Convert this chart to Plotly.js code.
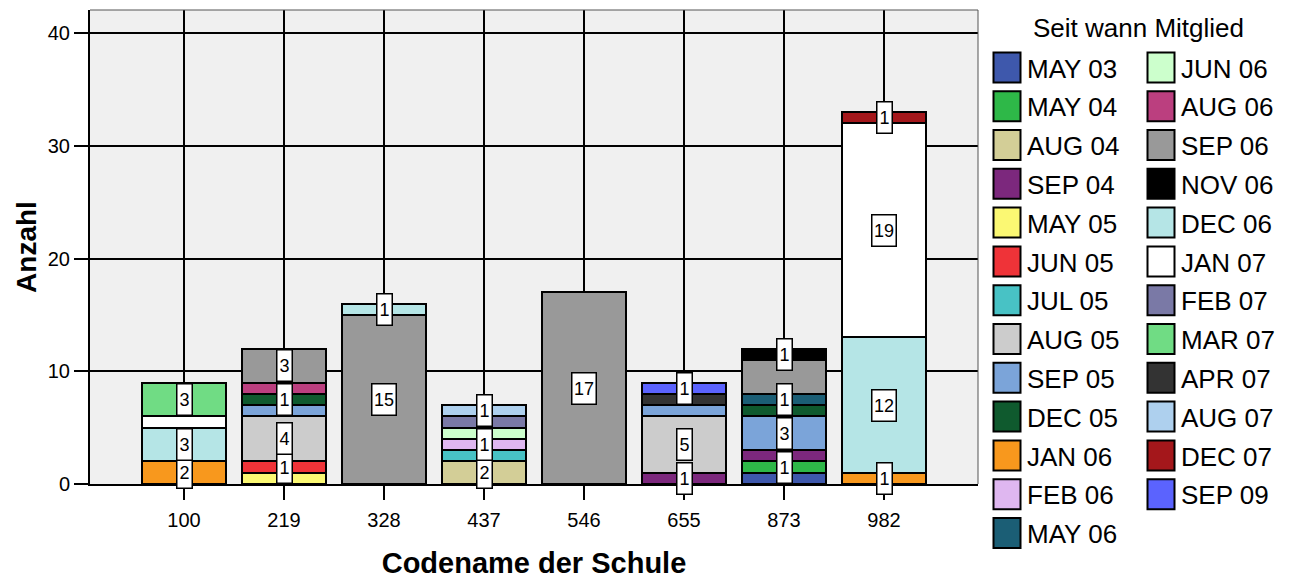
<!DOCTYPE html>
<html>
<head>
<meta charset="utf-8">
<script src="https://cdn.plot.ly/plotly-3.0.1.min.js"></script>
<style>html,body{margin:0;padding:0;background:#fff;}#chart{width:1290px;height:579px;}</style>
</head>
<body>
<div id="chart"></div>
<script>
// ---- data ----
var schools = ['100', '219', '328', '437', '546', '655', '873', '982'];
var seriesNames = ['MAY 03', 'MAY 04', 'AUG 04', 'SEP 04', 'MAY 05', 'JUN 05', 'JUL 05', 'AUG 05',
  'SEP 05', 'DEC 05', 'JAN 06', 'FEB 06', 'MAY 06', 'JUN 06', 'AUG 06', 'SEP 06', 'NOV 06',
  'DEC 06', 'JAN 07', 'FEB 07', 'MAR 07', 'APR 07', 'AUG 07', 'DEC 07', 'SEP 09'];
var seriesColors = ['#3e58ac', '#2eb848', '#d3ce97', '#7c287d', '#fbf873', '#ef3338', '#48c2c5', '#cccccc',
  '#7ba4d9', '#0f5a2e', '#f8981d', '#dfb7f0', '#1b5e75', '#ccffcc', '#bb3f7f', '#999999', '#000000',
  '#b5e5e6', '#ffffff', '#7a79a6', '#70dc84', '#333333', '#aed0ee', '#a4171b', '#5b63fe'];
//                 100   219   328   437   546   655   873   982
var may03 = [null, null, null, null, null, null, 1, null];
var may04 = [null, null, null, null, null, null, 1, null];
var aug04 = [null, null, null, 2, null, null, null, null];
var sep04 = [null, null, null, null, null, 1, 1, null];
var may05 = [null, 1, null, null, null, null, null, null];
var jun05 = [null, 1, null, null, null, null, null, null];
var jul05 = [null, null, null, 1, null, null, null, null];
var aug05 = [null, 4, null, null, null, 5, null, null];
var sep05 = [null, 1, null, null, null, 1, 3, null];
var dec05 = [null, 1, null, null, null, null, 1, null];
var jan06 = [2, null, null, null, null, null, null, 1];
var feb06 = [null, null, null, 1, null, null, null, null];
var may06 = [null, null, null, null, null, null, 1, null];
var jun06 = [null, null, null, 1, null, null, null, null];
var aug06 = [null, 1, null, null, null, null, null, null];
var sep06 = [null, 3, 15, null, 17, null, 3, null];
var nov06 = [null, null, null, null, null, null, 1, null];
var dec06 = [3, null, 1, null, null, null, null, 12];
var jan07 = [1, null, null, null, null, null, null, 19];
var feb07 = [null, null, null, 1, null, null, null, null];
var mar07 = [3, null, null, null, null, null, null, null];
var apr07 = [null, null, null, null, null, 1, null, null];
var aug07 = [null, null, null, 1, null, null, null, null];
var dec07 = [null, null, null, null, null, null, null, 1];
var sep09 = [null, null, null, null, null, 1, null, null];
var seriesValues = [may03, may04, aug04, sep04, may05, jun05, jul05, aug05, sep05, dec05, jan06, feb06,
  may06, jun06, aug06, sep06, nov06, dec06, jan07, feb07, mar07, apr07, aug07, dec07, sep09];
// segments that carry a value label: [school, series]
var labelledSegments = [
  ['100', 'JAN 06'], ['100', 'DEC 06'], ['100', 'MAR 07'],
  ['219', 'JUN 05'], ['219', 'AUG 05'], ['219', 'DEC 05'], ['219', 'SEP 06'],
  ['328', 'SEP 06'], ['328', 'DEC 06'],
  ['437', 'AUG 04'], ['437', 'FEB 06'], ['437', 'AUG 07'],
  ['546', 'SEP 06'],
  ['655', 'SEP 04'], ['655', 'AUG 05'], ['655', 'SEP 09'],
  ['873', 'MAY 04'], ['873', 'SEP 05'], ['873', 'MAY 06'], ['873', 'NOV 06'],
  ['982', 'JAN 06'], ['982', 'DEC 06'], ['982', 'JAN 07'], ['982', 'DEC 07']
];
var legendTitle = 'Seit wann Mitglied';
var xTitle = 'Codename der Schule';
var yTitle = 'Anzahl';

// ---- build ----
var FONT = 'Liberation Sans, Arial, sans-serif';
var firstColumnCount = 13;
var traces = seriesNames.map(function (name, i) {
  return {
    type: 'bar', name: name, x: schools, y: seriesValues[i],
    marker: {color: seriesColors[i], line: {color: '#000', width: 2}},
    legend: i < firstColumnCount ? 'legend' : 'legend2',
    legendgroup: 'g' + i,
    hoverinfo: 'x+y+name'
  };
});

var annotations = labelledSegments.map(function (seg) {
  var xi = schools.indexOf(seg[0]);
  var si = seriesNames.indexOf(seg[1]);
  var base = 0;
  for (var k = 0; k < si; k++) base += (seriesValues[k][xi] || 0);
  var v = seriesValues[si][xi];
  var txt = String(v);
  return {
    x: xi, y: base + v / 2, xref: 'x', yref: 'y', text: txt, showarrow: false,
    font: {family: FONT, size: 18, color: '#000'},
    bgcolor: '#ffffff', bordercolor: '#000', borderwidth: 1.5, borderpad: 1,
    width: txt.length > 1 ? 21 : 12, height: 28
  };
});

var L = 90, R = 978, T = 10, B = 484, W = 1290, H = 579;
function px2x(p) { return (p - L) / (R - L); }
function px2y(p) { return (B - p) / (B - T); }
annotations.push({
  x: px2x(1138), y: px2y(28), xref: 'paper', yref: 'paper', text: legendTitle, showarrow: false,
  xanchor: 'center', yanchor: 'middle', font: {family: FONT, size: 26, color: '#000'}
});

var legendCommon = {
  font: {family: FONT, size: 26, color: '#000'},
  bgcolor: 'rgba(0,0,0,0)', borderwidth: 0,
  traceorder: 'grouped', tracegroupgap: 2, itemwidth: 30,
  xanchor: 'left', yanchor: 'top', orientation: 'v', maxheight: 1000,
  itemclick: false, itemdoubleclick: false
};
var legend1 = Object.assign({}, legendCommon, {x: px2x(987), y: px2y(44)});
var legend2 = Object.assign({}, legendCommon, {x: px2x(1141), y: px2y(44)});

var layout = {
  width: W, height: H,
  margin: {l: L, r: W - R, t: T, b: H - B, pad: 0},
  paper_bgcolor: '#ffffff', plot_bgcolor: '#f0f0f0',
  barmode: 'stack', bargap: 0.16,
  font: {family: FONT, size: 20, color: '#000'},
  showlegend: true,
  legend: legend1, legend2: legend2,
  xaxis: {
    type: 'category', range: [-0.94, 7.94], fixedrange: true,
    showgrid: true, gridcolor: '#000', gridwidth: 1.5,
    showline: true, linecolor: '#000', linewidth: 2,
    ticks: 'outside', ticklen: 14, tickwidth: 2, tickcolor: '#000', ticklabelstandoff: 3,
    tickfont: {family: FONT, size: 20, color: '#000'},
    title: {text: xTitle, font: {family: FONT, size: 29, color: '#000', weight: 'bold'}, standoff: 28},
    automargin: false, zeroline: false
  },
  yaxis: {
    range: [0, 42.04], fixedrange: true, tickvals: [0, 10, 20, 30, 40],
    showgrid: true, gridcolor: '#000', gridwidth: 1.5,
    showline: true, linecolor: '#000', linewidth: 2,
    ticks: 'outside', ticklen: 14, tickwidth: 2, tickcolor: '#000',
    tickfont: {family: FONT, size: 20, color: '#000'},
    title: {text: yTitle, font: {family: FONT, size: 28, color: '#000', weight: 'bold'}, standoff: 3},
    automargin: false, zeroline: false
  },
  shapes: [
    {type: 'line', xref: 'paper', yref: 'paper', x0: 0, x1: 1, y0: 1, y1: 1, line: {color: '#555', width: 1}},
    {type: 'line', xref: 'paper', yref: 'paper', x0: 1, x1: 1, y0: 0, y1: 1, line: {color: '#555', width: 1}}
  ],
  annotations: annotations
};

function resizeSwatches() {
  var paths = document.querySelectorAll('#chart .legendpoints path');
  paths.forEach(function (p) { p.setAttribute('d', 'M13.5,15H-13.5V-15H13.5Z'); });
}

var gd = document.getElementById('chart');
Plotly.newPlot(gd, traces, layout, {displayModeBar: false}).then(function () {
  resizeSwatches();
  gd.on('plotly_afterplot', resizeSwatches);
  setTimeout(resizeSwatches, 50);
});
</script>
</body>
</html>
